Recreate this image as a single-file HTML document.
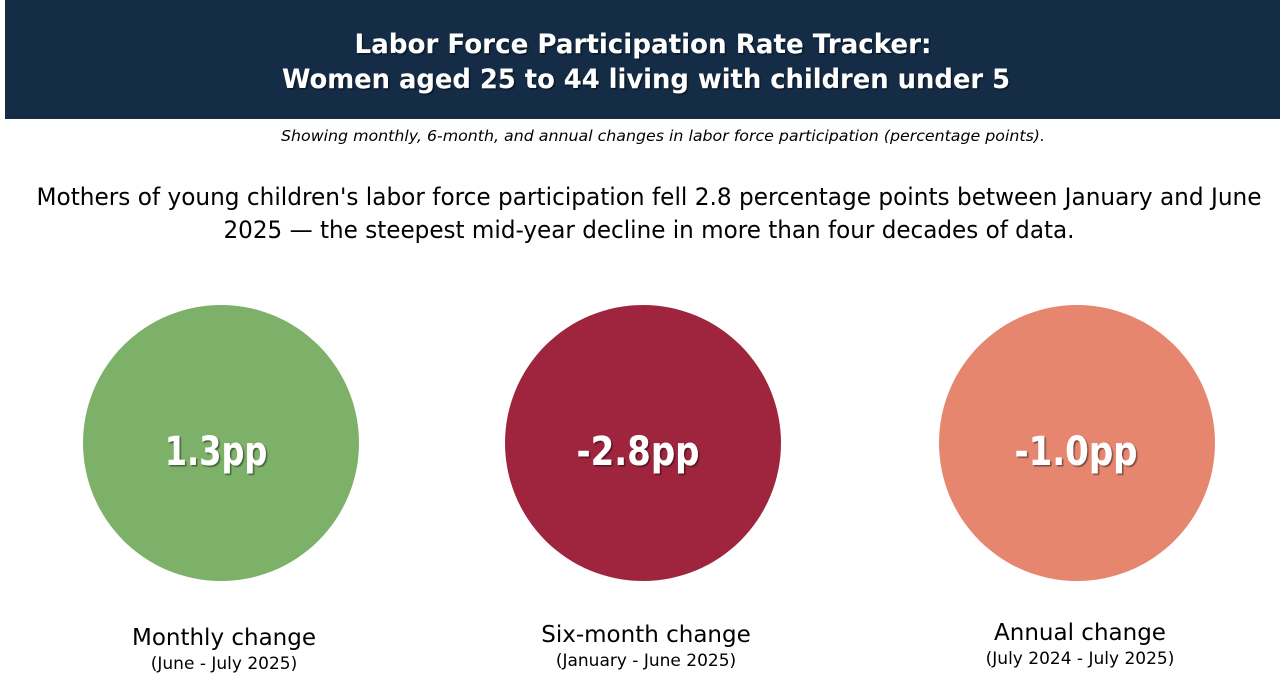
<!DOCTYPE html>
<html><head><meta charset="utf-8"><style>
html,body{margin:0;padding:0;background:#fff;width:1280px;height:695px;overflow:hidden}
svg{display:block}
text{font-family:"DejaVu Sans","Liberation Sans",sans-serif}
</style></head><body>
<svg id="chart" width="1280" height="695" viewBox="0 0 1280 695">
<defs><filter id="sh" x="-10%" y="-10%" width="120%" height="130%"><feDropShadow dx="1.5" dy="1.5" stdDeviation="0.6" flood-color="#000" flood-opacity="0.45"/></filter></defs>
<rect x="5" y="0" width="1275" height="119" fill="#142c45"/>
<g filter="url(#sh)" fill="#fff" font-weight="bold" font-size="27" text-anchor="middle">
<text x="643" y="53" textLength="577" lengthAdjust="spacingAndGlyphs">Labor Force Participation Rate Tracker:</text>
<text x="646" y="88" textLength="728" lengthAdjust="spacingAndGlyphs">Women aged 25 to 44 living with children under 5</text>
</g>
<text x="663" y="141" font-size="15" font-style="italic" text-anchor="middle" textLength="764" lengthAdjust="spacingAndGlyphs">Showing monthly, 6-month, and annual changes in labor force participation (percentage points).</text>
<g font-size="24" text-anchor="middle" fill="#000">
<text x="649" y="205" textLength="1225" lengthAdjust="spacingAndGlyphs">Mothers of young children's labor force participation fell 2.8 percentage points between January and June</text>
<text x="649" y="238" textLength="851" lengthAdjust="spacingAndGlyphs">2025 — the steepest mid-year decline in more than four decades of data.</text>
</g>
<g id="circles"></g>
</svg>
<script>
const categories = ["Monthly change", "Six-month change", "Annual change"];
const periods = ["(June - July 2025)", "(January - June 2025)", "(July 2024 - July 2025)"];
const values = [1.3, -2.8, -1.0];
const colors = ["#7db068", "#9e253d", "#e6866f"];
const cxs = [221, 643, 1077];
const ns = "http://www.w3.org/2000/svg";
const g = document.getElementById('circles');
function fmt(v){ return v.toFixed(1) + "pp"; }
values.forEach((v, i) => {
  const cx = cxs[i];
  const c = document.createElementNS(ns, 'circle');
  c.setAttribute('cx', cx); c.setAttribute('cy', 443); c.setAttribute('r', 138);
  c.setAttribute('fill', colors[i]);
  
  
  g.appendChild(c);
  const s = fmt(v);
  const t = document.createElementNS(ns, 'text');
  t.setAttribute('x', cx - (i === 2 ? 1 : 5)); t.setAttribute('y', 465);
  t.setAttribute('text-anchor', 'middle'); t.setAttribute('font-size', '40');
  t.setAttribute('font-weight', 'bold'); t.setAttribute('fill', '#fff');
  t.setAttribute('filter', 'url(#sh)');
  t.setAttribute('textLength', s.length * 20.5);
  t.setAttribute('lengthAdjust', 'spacingAndGlyphs');
  t.textContent = s;
  
  
  g.appendChild(t);
  const ly = [645, 642, 640][i];
  const l = document.createElementNS(ns, 'text');
  l.setAttribute('x', cx + 3); l.setAttribute('y', ly);
  l.setAttribute('text-anchor', 'middle'); l.setAttribute('font-size', '23');
  l.setAttribute('font-family', 'Liberation Sans, sans-serif');
  l.textContent = categories[i];
  
  
  g.appendChild(l);
  const p = document.createElementNS(ns, 'text');
  p.setAttribute('x', cx + 3); p.setAttribute('y', ly + 24);
  p.setAttribute('text-anchor', 'middle'); p.setAttribute('font-size', '17');
  p.setAttribute('font-family', 'Liberation Sans, sans-serif');
  p.textContent = periods[i];
  
  
  g.appendChild(p);
});
</script>
</body></html>
